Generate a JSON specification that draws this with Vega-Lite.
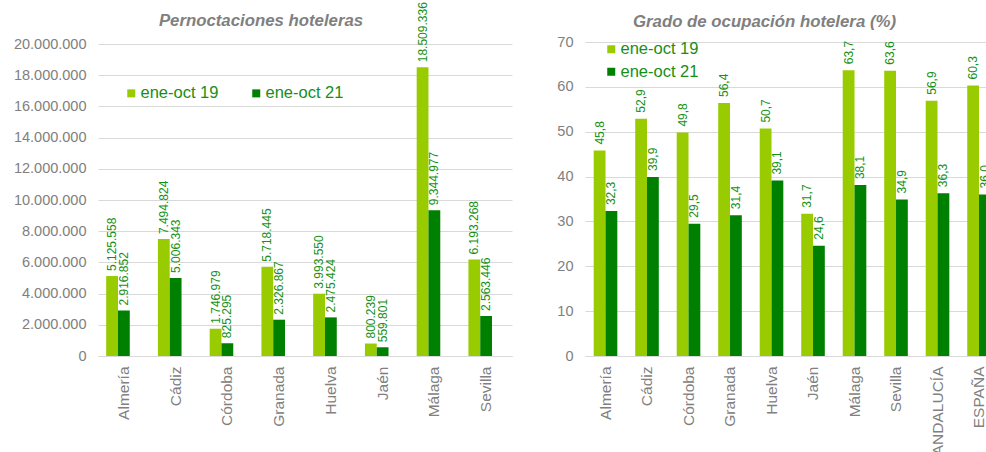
{
  "$schema": "https://vega.github.io/schema/vega-lite/v6.json",
  "padding": {"left": 13, "top": 2, "right": 0, "bottom": 0},
  "config": {
    "font": "Liberation Sans",
    "locale": {"number": {"decimal": ",", "thousands": ".", "grouping": [3], "currency": ["", " €"]}},
    "view": {"stroke": null},
    "axis": {"labelColor": "#808080", "labelFont": "Liberation Sans", "ticks": false, "gridColor": "#d9d9d9", "domainColor": "#d9d9d9", "title": null},
    "legend": {"labelColor": "#178f17", "labelFontSize": 16.5, "symbolType": "square", "symbolSize": 64, "symbolStrokeWidth": 0, "padding": 0, "labelOffset": 1, "title": null},
    "title": {"color": "#808080", "fontSize": 16.8, "fontStyle": "italic", "fontWeight": "bold", "anchor": "middle", "frame": "group"}
  },
  "datasets": {
    "pern": [
      {"region": "Almería", "serie": "ene-oct 19", "value": 5125558},
      {"region": "Almería", "serie": "ene-oct 21", "value": 2916852},
      {"region": "Cádiz", "serie": "ene-oct 19", "value": 7494824},
      {"region": "Cádiz", "serie": "ene-oct 21", "value": 5006343},
      {"region": "Córdoba", "serie": "ene-oct 19", "value": 1746979},
      {"region": "Córdoba", "serie": "ene-oct 21", "value": 825295},
      {"region": "Granada", "serie": "ene-oct 19", "value": 5718445},
      {"region": "Granada", "serie": "ene-oct 21", "value": 2326867},
      {"region": "Huelva", "serie": "ene-oct 19", "value": 3993550},
      {"region": "Huelva", "serie": "ene-oct 21", "value": 2475424},
      {"region": "Jaén", "serie": "ene-oct 19", "value": 800239},
      {"region": "Jaén", "serie": "ene-oct 21", "value": 559801},
      {"region": "Málaga", "serie": "ene-oct 19", "value": 18509336},
      {"region": "Málaga", "serie": "ene-oct 21", "value": 9344977},
      {"region": "Sevilla", "serie": "ene-oct 19", "value": 6193268},
      {"region": "Sevilla", "serie": "ene-oct 21", "value": 2563446}
    ],
    "ocup": [
      {"region": "Almería", "serie": "ene-oct 19", "value": 45.8},
      {"region": "Almería", "serie": "ene-oct 21", "value": 32.3},
      {"region": "Cádiz", "serie": "ene-oct 19", "value": 52.9},
      {"region": "Cádiz", "serie": "ene-oct 21", "value": 39.9},
      {"region": "Córdoba", "serie": "ene-oct 19", "value": 49.8},
      {"region": "Córdoba", "serie": "ene-oct 21", "value": 29.5},
      {"region": "Granada", "serie": "ene-oct 19", "value": 56.4},
      {"region": "Granada", "serie": "ene-oct 21", "value": 31.4},
      {"region": "Huelva", "serie": "ene-oct 19", "value": 50.7},
      {"region": "Huelva", "serie": "ene-oct 21", "value": 39.1},
      {"region": "Jaén", "serie": "ene-oct 19", "value": 31.7},
      {"region": "Jaén", "serie": "ene-oct 21", "value": 24.6},
      {"region": "Málaga", "serie": "ene-oct 19", "value": 63.7},
      {"region": "Málaga", "serie": "ene-oct 21", "value": 38.1},
      {"region": "Sevilla", "serie": "ene-oct 19", "value": 63.6},
      {"region": "Sevilla", "serie": "ene-oct 21", "value": 34.9},
      {"region": "ANDALUCÍA", "serie": "ene-oct 19", "value": 56.9},
      {"region": "ANDALUCÍA", "serie": "ene-oct 21", "value": 36.3},
      {"region": "ESPAÑA", "serie": "ene-oct 19", "value": 60.3},
      {"region": "ESPAÑA", "serie": "ene-oct 21", "value": 36.0}
    ]
  },
  "bounds": "flush",
  "spacing": 73,
  "resolve": {"scale": {"color": "independent"}, "legend": {"color": "independent"}},
  "hconcat": [
    {
      "width": 414,
      "height": 314,
      "title": {"text": "Pernoctaciones hoteleras", "dx": -44, "offset": -28},
      "data": {"name": "pern"},
      "encoding": {
        "x": {"field": "region", "type": "nominal", "sort": null,
          "scale": {"paddingInner": 0.316, "paddingOuter": 0.158},
          "axis": {"labelAngle": -90, "labelFontSize": 15.5, "labelPadding": 10, "grid": false}},
        "xOffset": {"field": "serie", "type": "nominal", "scale": {"domain": ["ene-oct 19", "ene-oct 21", "pad"]}},
        "y": {"field": "value", "type": "quantitative",
          "scale": {"domain": [0, 20128205], "nice": false},
          "axis": {"values": [0, 2000000, 4000000, 6000000, 8000000, 10000000, 12000000, 14000000, 16000000, 18000000, 20000000], "format": ",d", "labelFontSize": 14.5, "labelPadding": 12, "domain": false}}
      },
      "layer": [
        {
          "mark": {"type": "bar"},
          "encoding": {
            "color": {"field": "serie", "type": "nominal",
              "scale": {"domain": ["ene-oct 19", "ene-oct 21"], "range": ["#99cc00", "#008000"]},
              "legend": {"orient": "none", "direction": "horizontal", "legendX": 25, "legendY": 43, "columnPadding": 29}}
          }
        },
        {
          "mark": {"type": "text", "angle": 270, "align": "left", "baseline": "middle", "dx": 5, "fontSize": 12, "color": "#169116"},
          "encoding": {"text": {"field": "value", "type": "quantitative", "format": ",d"}}
        }
      ]
    },
    {
      "width": 415,
      "height": 314,
      "title": {"text": "Grado de ocupación hotelera (%)", "dx": -28, "offset": 3},
      "data": {"name": "ocup"},
      "encoding": {
        "x": {"field": "region", "type": "nominal",
          "sort": ["Almería", "Cádiz", "Córdoba", "Granada", "Huelva", "Jaén", "Málaga", "Sevilla", "ANDALUCÍA", "ESPAÑA"],
          "scale": {"paddingInner": 0.42, "paddingOuter": 0.21},
          "axis": {"labelAngle": -90, "labelFontSize": 15.5, "labelPadding": 10, "grid": false}},
        "xOffset": {"field": "serie", "type": "nominal", "scale": {"domain": ["ene-oct 19", "ene-oct 21"]}},
        "y": {"field": "value", "type": "quantitative",
          "scale": {"domain": [0, 70], "nice": false},
          "axis": {"values": [0, 10, 20, 30, 40, 50, 60, 70], "format": "d", "labelFontSize": 14.5, "labelPadding": 12, "domain": false}}
      },
      "layer": [
        {
          "mark": {"type": "bar"},
          "encoding": {
            "color": {"field": "serie", "type": "nominal",
              "scale": {"domain": ["ene-oct 19", "ene-oct 21"], "range": ["#99cc00", "#008000"]},
              "legend": {"orient": "none", "direction": "vertical", "legendX": 18, "legendY": -1, "rowPadding": 5.5}}
          }
        },
        {
          "mark": {"type": "text", "angle": 270, "align": "left", "baseline": "middle", "dx": 6, "fontSize": 12, "color": "#169116"},
          "encoding": {"text": {"field": "value", "type": "quantitative", "format": ".1f"}}
        }
      ]
    }
  ]
}
